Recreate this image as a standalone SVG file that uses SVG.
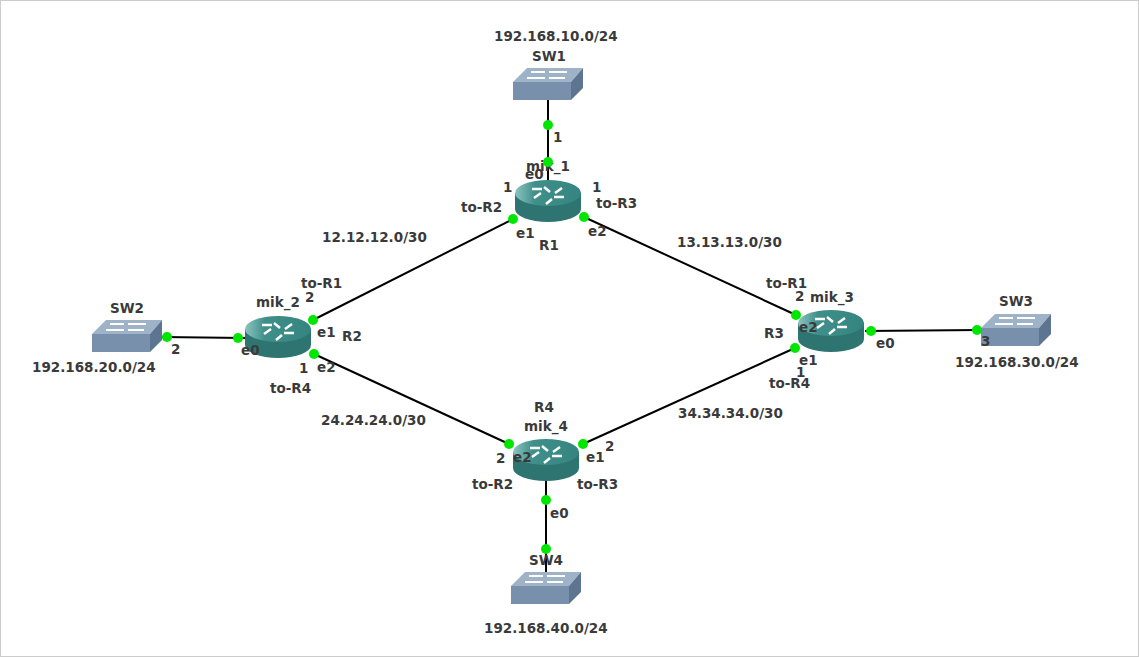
<svg xmlns="http://www.w3.org/2000/svg" width="1139" height="657" viewBox="0 0 1139 657">
<style>
text{font-family:"DejaVu Sans",sans-serif;font-weight:bold;font-size:13.5px;fill:#3a3a3a}
.l{stroke:#000;stroke-width:2}
.d{fill:#00e600}
</style>
<defs>
<linearGradient id="rg" x1="0" y1="0" x2="1" y2="0"><stop offset="0" stop-color="#8cc4c0"/><stop offset="0.3" stop-color="#3f8f8a"/><stop offset="1" stop-color="#358480"/></linearGradient>
<g id="router">
<path d="M-33,-8 V8 A33,13 0 0 0 33,8 V-8 Z" fill="#2e7470"/>
<ellipse cx="0" cy="-8" rx="33" ry="13" fill="url(#rg)"/>
<path d="M-16,-12 h10 M6,-4 h10 M-4,-14 l6,5 M4,-2 l-6,5 M-14,-3 l7,-5 M14,-13 l-7,5" stroke="#fff" stroke-width="2.5" fill="none"/>
</g>
<g id="switch">
<polygon points="0,14 14,0 70,0 58,14" fill="#9fb3c8"/>
<polygon points="58,14 70,0 70,20 58,32" fill="#5d7590"/>
<rect x="0" y="14" width="58" height="18" fill="#7890ab"/>
<path d="M18,4 h14 M36,4 h18 M14,10 h18 M36,10 h16" stroke="#fff" stroke-width="2"/>
</g>
</defs>
<rect x="0.5" y="0.5" width="1138" height="656" fill="#fff" stroke="#ccc"/>
<g id="connectors">
<line class="l" x1="548" y1="100" x2="548" y2="180"/>
<line class="l" x1="513" y1="219" x2="313" y2="320"/>
<line class="l" x1="584" y1="217" x2="796" y2="315"/>
<line class="l" x1="162" y1="337" x2="245" y2="338"/>
<line class="l" x1="314" y1="354" x2="509" y2="444"/>
<line class="l" x1="865" y1="331" x2="980" y2="330"/>
<line class="l" x1="795" y1="348" x2="583" y2="444"/>
<line class="l" x1="546" y1="478" x2="546" y2="572"/>
</g>
<g id="SW1"><use href="#switch" x="513" y="68"/><text x="532" y="61">SW1</text><text x="494" y="41">192.168.10.0/24</text></g>
<g id="SW2"><use href="#switch" x="92" y="320"/><text x="110" y="313">SW2</text><text x="32" y="372">192.168.20.0/24</text></g>
<g id="SW3"><use href="#switch" x="981" y="314"/><text x="999" y="306">SW3</text><text x="955" y="367">192.168.30.0/24</text></g>
<g id="SW4"><use href="#switch" x="511" y="572"/><text x="529" y="565">SW4</text><text x="484" y="633">192.168.40.0/24</text></g>
<g id="R1"><use href="#router" x="548" y="201"/><text x="526" y="171">mik_1</text><text x="539" y="250">R1</text></g>
<g id="R2"><use href="#router" x="278" y="337"/><text x="256" y="307">mik_2</text><text x="342" y="341">R2</text></g>
<g id="R3"><use href="#router" x="831" y="331"/><text x="810" y="302">mik_3</text><text x="764" y="338">R3</text></g>
<g id="R4"><use href="#router" x="546" y="460"/><text x="524" y="431">mik_4</text><text x="534" y="412">R4</text></g>
<g id="connector-labels">
<g class="d">
<circle cx="548" cy="125" r="5"/><circle cx="548" cy="162" r="5"/>
<circle cx="513" cy="219" r="5"/><circle cx="313" cy="320" r="5"/>
<circle cx="584" cy="217" r="5"/><circle cx="796" cy="315" r="5"/>
<circle cx="167" cy="337" r="5"/><circle cx="238" cy="338" r="5"/>
<circle cx="314" cy="354" r="5"/><circle cx="509" cy="444" r="5"/>
<circle cx="871" cy="331" r="5"/><circle cx="977" cy="330" r="5"/>
<circle cx="795" cy="348" r="5"/><circle cx="583" cy="444" r="5"/>
<circle cx="546" cy="500" r="5"/><circle cx="546" cy="549" r="5"/>
</g>
<text x="553" y="142">1</text><text x="525" y="179">e0</text>
<text x="503" y="192">1</text><text x="461" y="212">to-R2</text><text x="516" y="238">e1</text>
<text x="592" y="192">1</text><text x="596" y="208">to-R3</text><text x="588" y="236">e2</text>
<text x="305" y="302">2</text><text x="301" y="288">to-R1</text><text x="317" y="337">e1</text>
<text x="299" y="373">1</text><text x="270" y="393">to-R4</text><text x="317" y="372">e2</text>
<text x="171" y="354">2</text><text x="241" y="355">e0</text>
<text x="795" y="301">2</text><text x="766" y="288">to-R1</text><text x="799" y="332">e2</text>
<text x="799" y="365">e1</text><text x="796" y="377">1</text><text x="769" y="388">to-R4</text>
<text x="876" y="348">e0</text><text x="981" y="346">3</text>
<text x="496" y="463">2</text><text x="513" y="462">e2</text><text x="472" y="489">to-R2</text>
<text x="586" y="462">e1</text><text x="605" y="451">2</text><text x="577" y="489">to-R3</text>
<text x="550" y="518">e0</text>
<text x="322" y="242">12.12.12.0/30</text>
<text x="677" y="247">13.13.13.0/30</text>
<text x="321" y="425">24.24.24.0/30</text>
<text x="678" y="418">34.34.34.0/30</text>
</g>
</svg>
